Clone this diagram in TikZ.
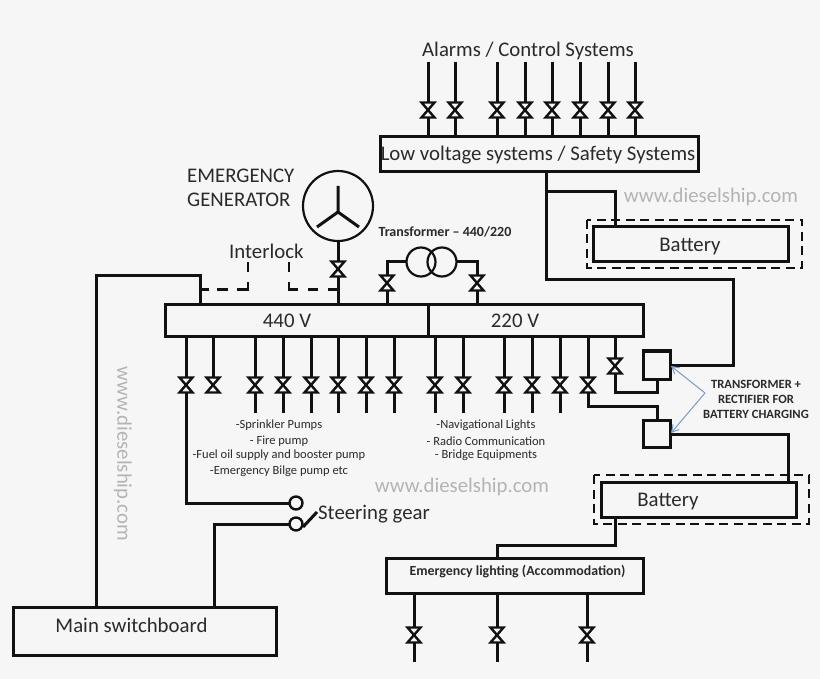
\documentclass[tikz,border=0pt]{standalone}
\usepackage{fontspec}
\setmainfont{Carlito}
\usetikzlibrary{arrows.meta}
\definecolor{bgc}{HTML}{F6F6F6}
\definecolor{inkc}{HTML}{111111}
\definecolor{txtc}{HTML}{2A2A2A}
\definecolor{wmc}{HTML}{B4B4B4}
\definecolor{arrc}{HTML}{7C9CC4}
\tikzset{
  wire/.style={draw=inkc,line width=3pt},
  dashwire/.style={draw=inkc,line width=2.4pt,dash pattern=on 9pt off 5.5pt},
  lockleft/.style={draw=inkc,line width=2.8pt,dash pattern=on 10pt off 10pt on 18.5pt off 9pt on 11pt off 8pt on 9pt},
  lockright/.style={draw=inkc,line width=2.8pt,dash pattern=on 10pt off 10pt on 16.5pt off 10pt on 10pt off 10pt on 10pt},
  boxn/.style={draw=inkc,line width=3pt,fill=bgc,inner sep=0pt,outer sep=0pt,anchor=north west},
  lbl/.style={text=txtc,inner sep=0pt},
  big/.style={lbl,font=\fontsize{20.8}{20.8}\selectfont},
  wm/.style={text=wmc,inner sep=0pt,font=\fontsize{20.8}{20.8}\selectfont},
  valve/.style={draw=inkc,line width=2.4pt,fill=bgc,line join=miter},
  coil/.style={draw=inkc,line width=2.2pt,circle,inner sep=0pt,outer sep=0pt,minimum size=29pt},
  contact/.style={draw=inkc,line width=2.4pt,circle,inner sep=0pt,outer sep=0pt,minimum size=13pt,fill=bgc},
  small/.style={lbl,font=\fontsize{12.5}{12.5}\selectfont},
  bsmall/.style={lbl,font=\fontsize{12.6}{12.6}\selectfont\bfseries},
}
\newcommand{\vlv}[2]{\draw[valve] (#1-6.5,#2-7.5)--(#1+6.5,#2-7.5)--(#1-6.5,#2+7.5)--(#1+6.5,#2+7.5)--cycle;}
\begin{document}
\begin{tikzpicture}[x=1pt,y=-1pt]
\path[use as bounding box,fill=bgc] (0,0) rectangle (820,679);

% --- boxes
\node[boxn,minimum width=318pt,minimum height=35pt] (lv) at (380,137) {};
\node[boxn,minimum width=195pt,minimum height=35pt] (bat1) at (593,227) {};
\node[boxn,minimum width=263pt,minimum height=32pt] (b440) at (165,305) {};
\node[boxn,minimum width=215pt,minimum height=32pt] (b220) at (428,305) {};
\node[boxn,minimum width=27pt,minimum height=28pt] (tr1) at (643,351) {};
\node[boxn,minimum width=27pt,minimum height=27pt] (tr2) at (643,420) {};
\node[boxn,minimum width=195pt,minimum height=35pt] (bat2) at (601,482) {};
\node[boxn,minimum width=257pt,minimum height=35pt] (el) at (386,558) {};
\node[boxn,minimum width=263pt,minimum height=48pt] (ms) at (13,607) {};
\node[draw=inkc,line width=2.2pt,circle,inner sep=0pt,outer sep=0pt,minimum size=70pt] (gen) at (338,206) {};
\node[coil] (c1) at (421,262) {};
\node[coil] (c2) at (442,262) {};
\node[contact] (s1) at (296,503) {};
\node[contact] (s2) at (296,524) {};

% --- dashed enclosures
\draw[dashwire] (587,220) rectangle (802,268);
\draw[dashwire] (594,475) rectangle (809,524);

% --- wires
\foreach \x in {428,455,497,525,552,580,608,635}{
  \draw[wire] (\x,62) -- (\x,137);
  \vlv{\x}{110}
}
\draw[wire] (546,172) -- (546,280) -- (733,280) -- (733,365) -- (tr1.east |- 0,365);
\draw[wire] (546,192) -- (615,192) -- (615,227);
\draw[wire] (338,241) -- (338,305);
\vlv{338}{269}
\draw[wire] (338,186) -- (338,212) (317,227) -- (338,212) -- (359,227);
\draw[wire] (c1.west) -- (387,262) -- (387,305);
\draw[wire] (c2.east) -- (477,262) -- (477,305);
\vlv{387}{283}
\vlv{477}{283}
\draw[wire] (200,305) -- (200,276) -- (96,276) -- (96,607);
\draw[lockleft] (248,262) -- (248,289.5) -- (200,289.5);
\draw[lockright] (289,262) -- (289,289.5) -- (338,289.5);

\foreach \x in {255,283,311,338,366,394,435,463,504,532,560}{
  \draw[wire] (\x,337) -- (\x,413);
  \vlv{\x}{385}
}
\draw[wire] (213,337) -- (213,393);
\vlv{213}{385}
\draw[wire] (186,337) -- (186,503) -- (s1.west);
\vlv{186}{385}
\draw[wire] (s2.west) -- (214,524) -- (214,607);
\draw[wire] (303,527) -- (317,512);
\draw[wire] (588,337) -- (588,406) -- (657,406) -- (657,420);
\vlv{588}{385}
\draw[wire] (615,337) -- (615,392) -- (657,392) -- (657,379);
\vlv{615}{366}
\draw[wire] (670,434) -- (788,434) -- (788,482);
\draw[wire] (615,517) -- (615,545) -- (497,545) -- (497,558);
\foreach \x in {414,497,587}{
  \draw[wire] (\x,593) -- (\x,662);
  \vlv{\x}{635}
}
\coordinate (arrv) at (705,393);
\draw[draw=arrc,line width=1pt,-{Straight Barb[length=7pt,width=8pt]}] (arrv) -- (671,366);
\draw[draw=arrc,line width=1pt,-{Straight Barb[length=7pt,width=8pt]}] (arrv) -- (671,433);

% --- labels
\node[big] (t1) at (528,51) {Alarms / Control Systems};
\node[big] (tlv) at (538,155) {Low voltage systems / Safety Systems};
\node[big] (tb1) at (690,247) {Battery};
\node[big] (tb2) at (668,502) {Battery};
\node[big] (t440) at (287,321) {440 V};
\node[big] (t220) at (515,321) {220 V};
\node[lbl,font=\fontsize{13.9}{13.9}\selectfont\bfseries] (tel) at (517.5,572) {Emergency lighting (Accommodation)};
\node[big] (tms) at (131.5,625) {Main switchboard};
\node[wm] (w1) at (711,197) {www.dieselship.com};
\node[big,anchor=west] (t2) at (187,176) {EMERGENCY};
\node[big,anchor=west] (t3) at (187,200) {GENERATOR};
\node[big,anchor=west] (t4) at (229,251) {Interlock};
\node[lbl,font=\fontsize{14}{14}\selectfont\bfseries] (t5) at (445,232) {Transformer – 440/220};
\node[small] (l1) at (279,425) {-Sprinkler Pumps};
\node[small] (l2) at (279,441) {- Fire pump};
\node[small] (l3) at (279,455) {-Fuel oil supply and booster pump};
\node[small] (l4) at (279,471) {-Emergency Bilge pump etc};
\node[small] (n1) at (486,425) {-Navigational Lights};
\node[small] (n2) at (486,441) {- Radio Communication};
\node[small] (n3) at (486,455) {- Bridge Equipments};
\node[wm] (w2) at (462,487) {www.dieselship.com};
\node[wm,rotate=-90] (w3) at (123,454) {www.dieselship.com};
\node[big,anchor=west] (t6) at (318,514) {Steering gear};
\node[bsmall] (r1) at (756,384) {TRANSFORMER +};
\node[bsmall] (r2) at (756,399) {RECTIFIER FOR};
\node[bsmall] (r3) at (756,414) {BATTERY CHARGING};
\end{tikzpicture}
\end{document}
